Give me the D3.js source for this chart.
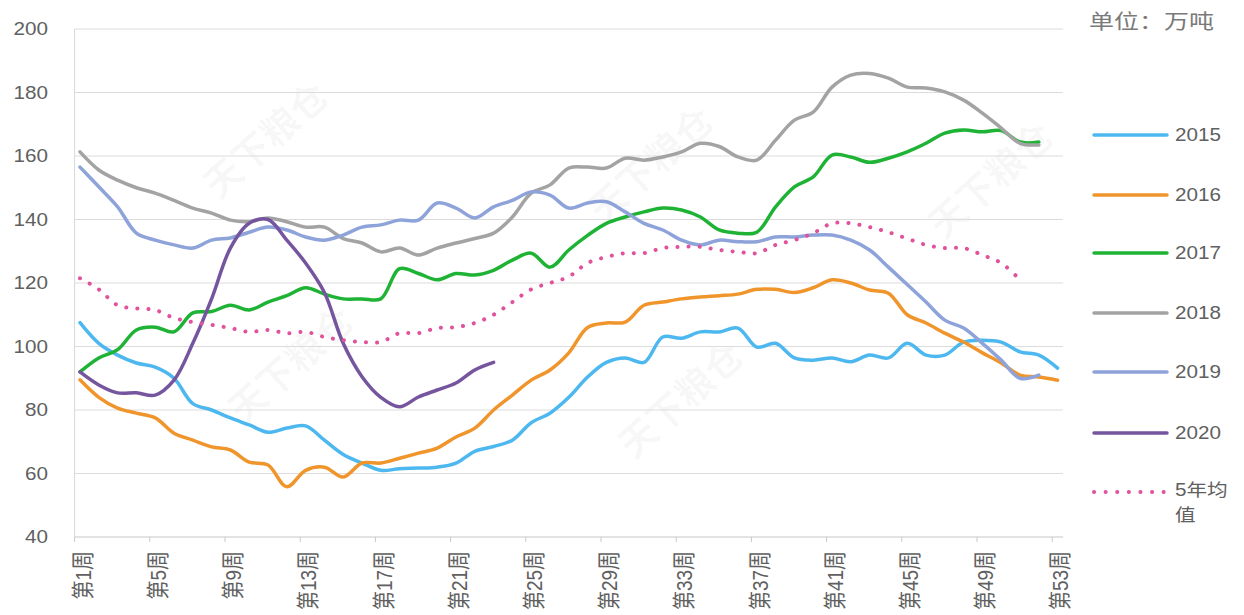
<!DOCTYPE html>
<html>
<head>
<meta charset="utf-8">
<script src="https://cdn.jsdelivr.net/npm/d3@7"></script>
<style>
  body { margin: 0; background: #fff; }
  text { font-family: "Liberation Sans", "Noto Sans CJK SC", sans-serif; }
</style>
</head>
<body>
<script>
var weeks = d3.range(1, 54);
var tickWeeks = [1, 5, 9, 13, 17, 21, 25, 29, 33, 37, 41, 45, 49, 53];
var yTicks = [40, 60, 80, 100, 120, 140, 160, 180, 200];

var s2015 = [107.5, 101, 97.3, 94.8, 93.5, 90, 82, 80, 77.5, 75.3, 73, 74.3, 75, 70.5, 66, 63.3, 61, 61.5, 61.7, 62,
  63.3, 67, 68.5, 70.5, 76, 79, 84, 90.4, 95, 96.4, 95, 103, 102.6, 104.6, 104.6, 105.8, 99.8, 101, 96.4, 95.7,
  96.4, 95.2, 97.3, 96.4, 101, 97.3, 97.3, 101.4, 102, 101.4, 98.3, 97.3, 93.2];
var s2016 = [89.5, 84, 80.6, 79, 77.5, 72.7, 70.5, 68.4, 67.4, 63.6, 62.7, 55.8, 61, 62, 58.9, 63.3, 63.3, 64.8, 66.4, 68,
  71.5, 74.3, 80, 84.7, 89.4, 92.6, 98, 106, 107.4, 107.7, 113, 114, 115, 115.6, 116, 116.5, 118, 118, 117, 118.5,
  121, 120, 117.8, 116.8, 110, 107.4, 104.2, 101.4, 98, 94.8, 91, 90.4, 89.4];
var s2017 = [92, 96.4, 99, 105.2, 106.1, 104.6, 110.6, 111, 113, 111.5, 114, 116, 118.5, 116.5, 115, 115, 115, 124.5, 123, 121,
  123, 122.5, 124, 127.2, 129.4, 125, 130.4, 135, 138.8, 140.8, 142.4, 143.6, 143, 140.8, 136.7, 135.7, 136, 144, 150.3, 153.4,
  160.3, 159.7, 158, 159.3, 161.3, 164, 167.2, 168.2, 167.6, 168, 164.4, 164.4, null];
var s2018 = [161.3, 155.6, 152.4, 150, 148.3, 146, 143.6, 142, 139.8, 139.3, 140.5, 139.3, 137.6, 137.6, 134, 132.6, 129.8, 131, 128.8, 131,
  132.6, 134, 135.7, 140.8, 148.3, 150.9, 156.2, 156.5, 156.2, 159.3, 158.7, 159.7, 161.3, 164, 163, 159.7, 158.7, 165, 171.3, 173.8,
  181.7, 185.5, 186, 184.5, 181.7, 181.4, 180.2, 177.6, 173.5, 168.8, 164, 163.5, null];
var s2019 = [156.5, 150.3, 144, 135.7, 133.5, 132, 131, 133.5, 134.2, 136, 137.6, 136.7, 134.5, 133.5, 135.1, 137.6, 138.3, 139.8, 139.8, 145.2,
  143.6, 140.5, 144, 146, 148.7, 147.7, 143.6, 145.2, 145.6, 142.4, 138.8, 136.7, 133.5, 132, 133.5, 133, 133, 134.5, 134.5, 135.1,
  135.1, 133.5, 130.4, 125, 119.5, 114, 108.3, 105.8, 101, 95.7, 90, 91, null];
var s2020 = [92, 87.9, 85.4, 85.4, 84.7, 89.4, 101, 115, 131, 138.8, 140, 133.5, 126.3, 117, 101, 90.5, 84, 81, 84.1, 86.3,
  88.5, 92.6, 95];
var avg5 = [121.5, 118, 113, 112, 111.5, 109, 107.7, 106.8, 105.8, 104.6, 105.2, 104.2, 104.6, 103, 102, 101.4, 101.4, 104.2, 104.2, 105.8,
  106.1, 107.4, 110, 114, 118, 120, 122, 126.3, 128.2, 129.4, 129.4, 131, 131.4, 131.4, 130.4, 129.8, 129.4, 132, 133.5, 135.7,
  138.8, 138.8, 137.6, 136, 134, 132, 131, 131, 128.8, 126.3, 121];

var seriesNames = ["2015", "2016", "2017", "2018", "2019", "2020", "5年均值"];
var seriesValues = [s2015, s2016, s2017, s2018, s2019, s2020, avg5];
var seriesColors = ["#4db8ef", "#f0952c", "#1fb336", "#a3a3a3", "#8ea3d9", "#76559f", "#e0529c"];

var width = 1244, height = 615;
var stretch = 1.18; // the source picture is a little wider than tall
var svg = d3.select("body").append("svg")
  .attr("width", width)
  .attr("height", height);

var x = d3.scaleLinear().domain([1, 53]).range([80, 1057.6]);
var y = d3.scaleLinear().domain([40, 200]).range([537, 29]);
var halfStep = (x(2) - x(1)) / 2;
var left = x(1) - halfStep + 4, right = x(53) + halfStep - 4;

// faint watermark
var marks = [[275, 150], [660, 175], [1000, 190], [300, 375], [690, 410]];
svg.selectAll(".wm")
  .data(marks)
  .enter()
  .append("text")
  .attr("class", "wm")
  .attr("transform", function(d) { return "translate(" + d[0] + "," + d[1] + ") rotate(-42)"; })
  .attr("text-anchor", "middle")
  .attr("font-size", 38)
  .attr("font-weight", "bold")
  .attr("fill", "#000")
  .attr("fill-opacity", 0.035)
  .text("天下粮仓");

// gridlines
svg.append("g")
  .selectAll("line")
  .data(yTicks.slice(1))
  .enter()
  .append("line")
  .attr("x1", left)
  .attr("x2", right)
  .attr("y1", function(d) { return y(d); })
  .attr("y2", function(d) { return y(d); })
  .attr("stroke", "#dcdcdc")
  .attr("stroke-width", 1);

// axes lines
svg.append("line")
  .attr("x1", left).attr("x2", right)
  .attr("y1", y(40)).attr("y2", y(40))
  .attr("stroke", "#c8c8c8").attr("stroke-width", 1.2);
svg.append("line")
  .attr("x1", left).attr("x2", left)
  .attr("y1", y(200)).attr("y2", y(40))
  .attr("stroke", "#d8d8d8").attr("stroke-width", 1);

// y labels
svg.append("g")
  .selectAll("text")
  .data(yTicks)
  .enter()
  .append("text")
  .attr("transform", function(d) { return "translate(48," + y(d) + ") scale(" + stretch + ",1)"; })
  .attr("dy", "0.35em")
  .attr("text-anchor", "end")
  .attr("font-size", 17.5)
  .attr("fill", "#606060")
  .text(function(d) { return d; });

// x ticks and labels
svg.append("g")
  .selectAll("line")
  .data(tickWeeks)
  .enter()
  .append("line")
  .attr("x1", function(d) { return x(d) - halfStep + 4; })
  .attr("x2", function(d) { return x(d) - halfStep + 4; })
  .attr("y1", y(40))
  .attr("y2", y(40) + 5)
  .attr("stroke", "#c8c8c8");

svg.append("g")
  .selectAll("text")
  .data(tickWeeks)
  .enter()
  .append("text")
  .attr("transform", function(d) { return "translate(" + (x(d) + 3) + ",551) scale(" + stretch + ",1) rotate(-90)"; })
  .attr("dy", "0.35em")
  .attr("text-anchor", "end")
  .attr("font-size", 19)
  .attr("fill", "#606060")
  .text(function(d) { return "第" + d + "周"; });

// series lines
var line = d3.line()
  .defined(function(d) { return d != null; })
  .x(function(d, i) { return x(weeks[i]); })
  .y(function(d) { return y(d); })
  .curve(d3.curveCatmullRom.alpha(0.5));

svg.append("g")
  .selectAll("path")
  .data(seriesValues)
  .enter()
  .append("path")
  .attr("d", function(d) { return line(d); })
  .attr("fill", "none")
  .attr("stroke", function(d, i) { return seriesColors[i]; })
  .attr("stroke-width", function(d, i) { return i == 6 ? 4 : 3.5; })
  .attr("stroke-linecap", "round")
  .attr("stroke-linejoin", "round")
  .attr("stroke-dasharray", function(d, i) { return i == 6 ? "0.1 11" : null; });

// legend
var legendY = [135, 195, 253, 313, 372, 433, 492];
var legend = svg.append("g")
  .selectAll("g")
  .data(seriesNames)
  .enter()
  .append("g")
  .attr("transform", function(d, i) { return "translate(0," + legendY[i] + ")"; });
legend.append("line")
  .attr("x1", 1094).attr("x2", 1167)
  .attr("y1", 0).attr("y2", 0)
  .attr("stroke", function(d, i) { return seriesColors[i]; })
  .attr("stroke-width", function(d, i) { return i == 6 ? 4 : 3.5; })
  .attr("stroke-linecap", "round")
  .attr("stroke-dasharray", function(d, i) { return i == 6 ? "0.1 11.5" : null; });
legend.append("text")
  .attr("transform", "translate(1175,0) scale(" + stretch + ",1)")
  .attr("dy", "0.35em")
  .attr("font-size", 17.5)
  .attr("fill", "#606060")
  .each(function(d) {
    var t = d3.select(this);
    if (d == "5年均值") {
      t.attr("dy", "0.2em");
      t.append("tspan").attr("x", 0).text("5年均");
      t.append("tspan").attr("x", 0).attr("dy", "1.45em").text("值");
    } else {
      t.text(d);
    }
  });

svg.append("text")
  .attr("transform", "translate(1089,22) scale(1.25,1)")
  .attr("dy", "0.35em")
  .attr("font-size", 20)
  .attr("fill", "#7a7a7a")
  .text("单位：万吨");
</script>
</body>
</html>
